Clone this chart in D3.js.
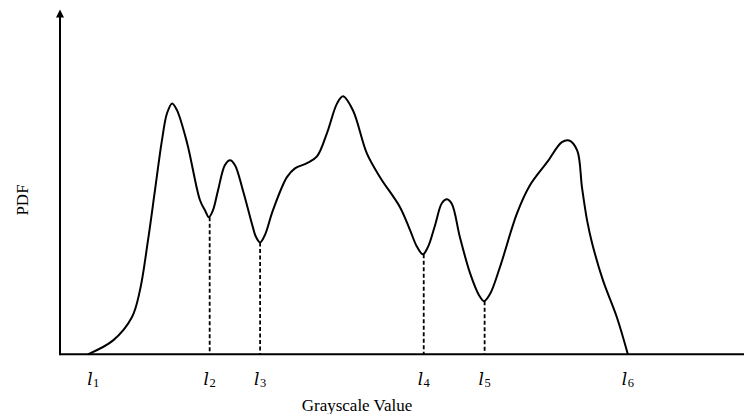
<!DOCTYPE html>
<html>
<head>
<meta charset="utf-8">
<script src="https://cdn.jsdelivr.net/npm/d3@7"></script>
<style>
  body { margin: 0; background: #fff; }
  svg { display: block; }
  text { font-family: "Liberation Serif", "Times New Roman", serif; fill: #000; }
</style>
</head>
<body>
<svg id="chart" width="744" height="414"></svg>
<script>
// grayscale value (0-255) and PDF value
var gray = [10.4, 19.8, 26.8, 29.8, 32.8, 35.4, 38.0, 39.9, 41.8, 43.6, 47.4, 52.2, 54.2,
  55.5, 57.0, 58.9, 61.5, 63.4, 65.2, 68.2, 71.9, 72.9, 74.6, 76.4, 79.4, 84.6, 87.6,
  92.1, 95.8, 99.5, 103.3, 105.5, 109.2, 114.4, 119.3, 126.8, 130.5, 133.1, 135.3,
  137.2, 139.8, 142.4, 144.3, 146.1, 149.1, 152.9, 156.2, 158.1, 160.3, 164.0, 170.4,
  175.2, 181.6, 187.1, 189.8, 192.8, 194.6, 196.5, 198.4, 202.4, 207.6, 211.7];
var pdf = [0, 0.041, 0.109, 0.188, 0.335, 0.482, 0.629, 0.709, 0.738, 0.718, 0.621, 0.453, 0.421,
  0.403, 0.423, 0.482, 0.557, 0.571, 0.557, 0.482, 0.374, 0.348, 0.329, 0.351, 0.424, 0.521, 0.547,
  0.562, 0.582, 0.650, 0.738, 0.759, 0.718, 0.591, 0.521, 0.432, 0.365, 0.316, 0.294,
  0.316, 0.379, 0.445, 0.456, 0.442, 0.344, 0.238, 0.174, 0.156, 0.177, 0.256, 0.415,
  0.497, 0.565, 0.624, 0.629, 0.600, 0.491, 0.394, 0.326, 0.218, 0.109, 0];

// threshold levels
var levelNames = ["1", "2", "3", "4", "5", "6"];
var levelX = [12.4, 55.8, 74.6, 135.6, 158.3, 211.7];
var levelY = [null, 0.403, 0.329, 0.294, 0.156, null];

var svg = d3.select("#chart");

var x = d3.scaleLinear().domain([0, 255]).range([60, 744]);
var y = d3.scaleLinear().domain([0, 1]).range([354.3, 14.3]);

var pts = gray.map(function(g, i){ return [g, pdf[i]]; });

// axes
svg.append("line")
  .attr("x1", x(0)).attr("x2", x(255))
  .attr("y1", y(0)).attr("y2", y(0))
  .attr("stroke", "#000").attr("stroke-width", 2);
svg.append("line")
  .attr("x1", x(0)).attr("x2", x(0))
  .attr("y1", y(0) + 1).attr("y2", 16)
  .attr("stroke", "#000").attr("stroke-width", 2);
svg.append("path")
  .attr("d", "M" + x(0) + ",9.5 L" + (x(0) - 4) + ",17.5 L" + (x(0) + 4) + ",17.5 Z")
  .attr("fill", "#000");

// dashed level lines
levelX.forEach(function(lx, i){
  if (levelY[i] == null) return;
  svg.append("line")
    .attr("x1", x(lx)).attr("x2", x(lx))
    .attr("y1", y(levelY[i])).attr("y2", y(0))
    .attr("stroke", "#000").attr("stroke-width", 1.8)
    .attr("stroke-dasharray", "4,2.5");
});

// curve
var line = d3.line()
  .x(function(d){ return x(d[0]); })
  .y(function(d){ return y(d[1]); })
  .curve(d3.curveCatmullRom.alpha(0.5));

svg.append("path")
  .datum(pts)
  .attr("d", line)
  .attr("fill", "none")
  .attr("stroke", "#000")
  .attr("stroke-width", 2)
  .attr("stroke-linejoin", "round");

// level labels
var labs = svg.selectAll(".lev")
  .data(levelNames)
  .enter()
  .append("text")
  .attr("class", "lev")
  .attr("x", function(d, i){ return x(levelX[i]); })
  .attr("y", 385)
  .attr("text-anchor", "middle");
labs.append("tspan")
  .style("font-family", "'DejaVu Serif', serif")
  .style("font-style", "italic")
  .style("font-size", "17px")
  .text("l");
labs.append("tspan")
  .style("font-size", "12.5px")
  .attr("dx", 0.5)
  .attr("dy", 1.5)
  .text(function(d){ return d; });

svg.append("text")
  .attr("x", 357)
  .attr("y", 411)
  .attr("text-anchor", "middle")
  .style("font-size", "17px")
  .text("Grayscale Value");

svg.append("text")
  .attr("transform", "translate(28,200) rotate(-90)")
  .attr("text-anchor", "middle")
  .style("font-size", "17px")
  .text("PDF");
</script>
</body>
</html>
